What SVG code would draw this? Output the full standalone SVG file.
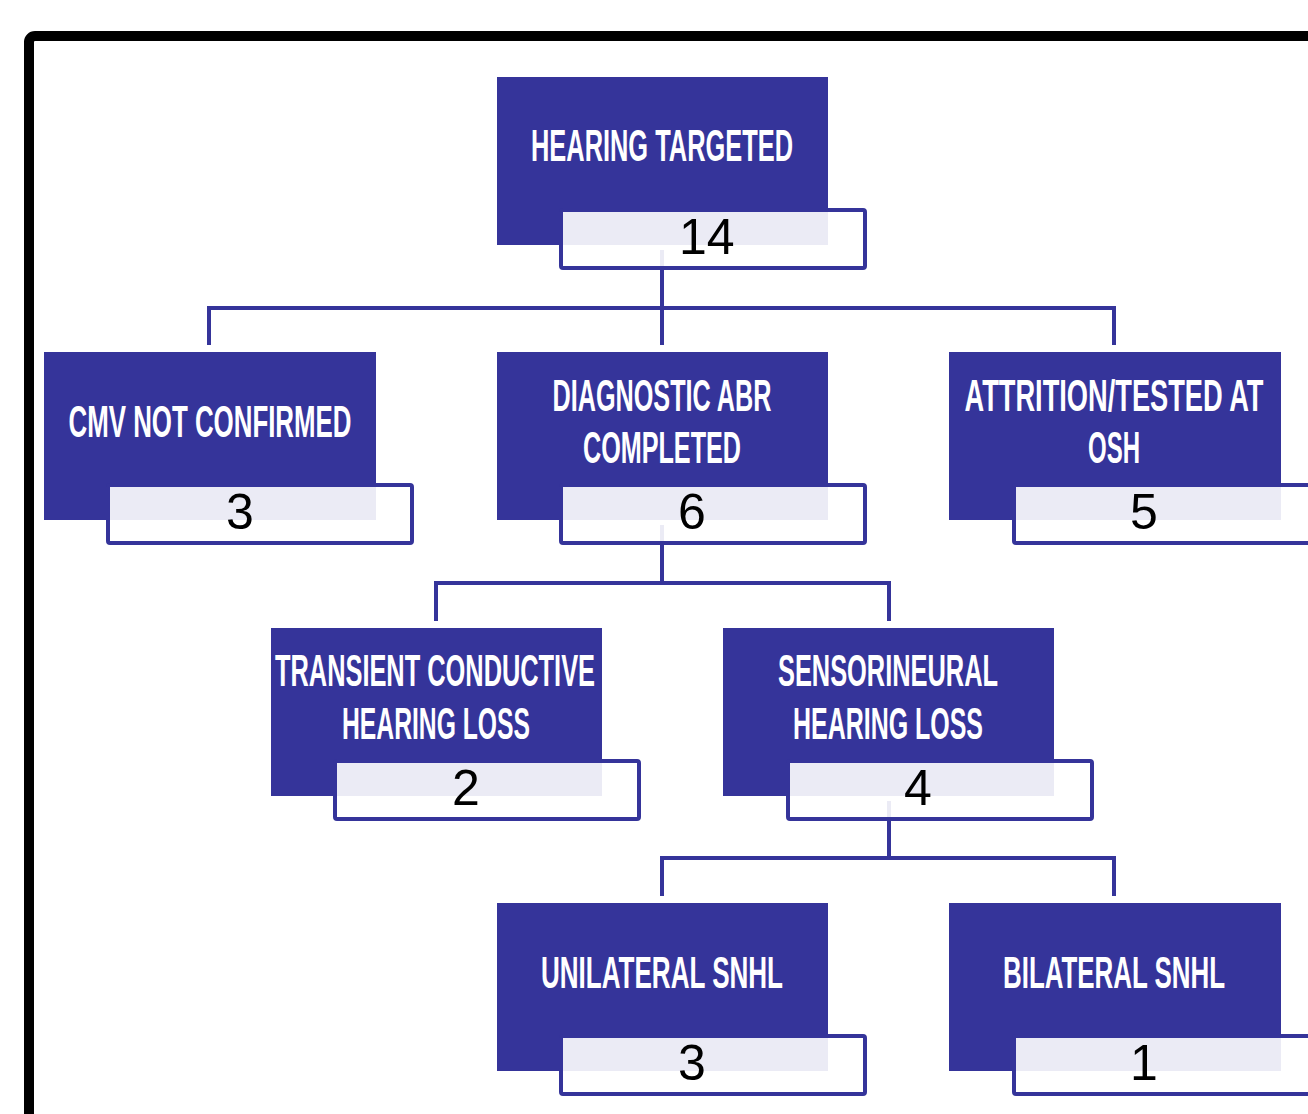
<svg xmlns="http://www.w3.org/2000/svg" width="1308" height="1114" viewBox="0 0 1308 1114">
<style>
.frame{fill:none;stroke:#000;stroke-width:10}
.blue{fill:#35349a}
.num{fill:#fff;fill-opacity:0.9;stroke:#35349a;stroke-width:4}
.lbl{font-family:"Liberation Sans Narrow","Liberation Sans",Arial,sans-serif;font-weight:700;font-size:44px;fill:#fff;text-anchor:middle}
.n{font-family:"Liberation Sans",Arial,sans-serif;font-size:50px;fill:#000}
.conn{fill:none;stroke:#35349a;stroke-width:4;stroke-linejoin:miter;stroke-linecap:butt}
</style>
<rect width="1308" height="1114" fill="#fff"/>
<rect class="frame" x="29" y="36" width="1400" height="1200" rx="6"/>
<g id="connectors">
<path class="conn" d="M662 250V308M209 345V308H1114V345M662 308V345"/>
<path class="conn" d="M662 525V583M436 621V583H889V621"/>
<path class="conn" d="M889 801V858M662 896V858H1114V896"/>
</g>
<g id="n-hearing-targeted">
<rect class="blue" x="497" y="77" width="331" height="168"/>
<rect class="num" x="561" y="210" width="304" height="58" rx="2"/>
<text class="lbl" x="662" y="161" textLength="262" lengthAdjust="spacingAndGlyphs">HEARING TARGETED</text>
<text class="n" x="679" y="254">14</text>
</g>
<g id="n-cmv">
<rect class="blue" x="44" y="352" width="332" height="168"/>
<rect class="num" x="108" y="485" width="304" height="58" rx="2"/>
<text class="lbl" x="210" y="437" textLength="283" lengthAdjust="spacingAndGlyphs">CMV NOT CONFIRMED</text>
<text class="n" x="226" y="529">3</text>
</g>
<g id="n-abr">
<rect class="blue" x="497" y="352" width="331" height="168"/>
<rect class="num" x="561" y="485" width="304" height="58" rx="2"/>
<text class="lbl" x="662" y="411" textLength="219" lengthAdjust="spacingAndGlyphs">DIAGNOSTIC ABR</text>
<text class="lbl" x="662" y="463" textLength="158" lengthAdjust="spacingAndGlyphs">COMPLETED</text>
<text class="n" x="678" y="529">6</text>
</g>
<g id="n-attrition">
<rect class="blue" x="949" y="352" width="332" height="168"/>
<rect class="num" x="1014" y="485" width="304" height="58" rx="2"/>
<text class="lbl" x="1114" y="411" textLength="299" lengthAdjust="spacingAndGlyphs">ATTRITION/TESTED AT</text>
<text class="lbl" x="1114" y="463" textLength="52" lengthAdjust="spacingAndGlyphs">OSH</text>
<text class="n" x="1130" y="529">5</text>
</g>
<g id="n-transient">
<rect class="blue" x="271" y="628" width="331" height="168"/>
<rect class="num" x="335" y="761" width="304" height="58" rx="2"/>
<text class="lbl" x="435" y="686" textLength="320" lengthAdjust="spacingAndGlyphs">TRANSIENT CONDUCTIVE</text>
<text class="lbl" x="436" y="739" textLength="188" lengthAdjust="spacingAndGlyphs">HEARING LOSS</text>
<text class="n" x="452" y="805">2</text>
</g>
<g id="n-snhl">
<rect class="blue" x="723" y="628" width="331" height="168"/>
<rect class="num" x="788" y="761" width="304" height="58" rx="2"/>
<text class="lbl" x="888" y="686" textLength="220" lengthAdjust="spacingAndGlyphs">SENSORINEURAL</text>
<text class="lbl" x="888" y="739" textLength="190" lengthAdjust="spacingAndGlyphs">HEARING LOSS</text>
<text class="n" x="904" y="805">4</text>
</g>
<g id="n-unilateral">
<rect class="blue" x="497" y="903" width="331" height="168"/>
<rect class="num" x="561" y="1036" width="304" height="58" rx="2"/>
<text class="lbl" x="662" y="988" textLength="242" lengthAdjust="spacingAndGlyphs">UNILATERAL SNHL</text>
<text class="n" x="678" y="1080">3</text>
</g>
<g id="n-bilateral">
<rect class="blue" x="949" y="903" width="332" height="168"/>
<rect class="num" x="1014" y="1036" width="304" height="58" rx="2"/>
<text class="lbl" x="1114" y="988" textLength="222" lengthAdjust="spacingAndGlyphs">BILATERAL SNHL</text>
<text class="n" x="1130" y="1080">1</text>
</g>
</svg>
